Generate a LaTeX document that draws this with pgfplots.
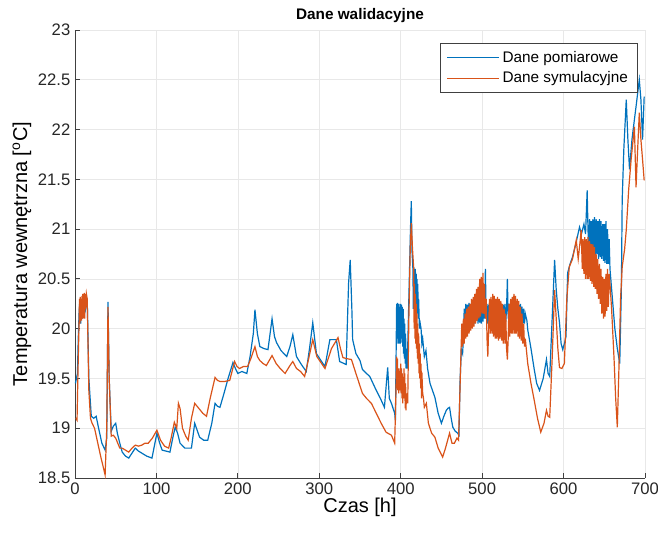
\documentclass[border=0pt]{standalone}
\usepackage{pgfplots}
\pgfplotsset{compat=1.18}
\usepackage{fontspec}
\setmainfont{Liberation Sans}
\definecolor{mblue}{rgb}{0.0,0.447,0.741}
\definecolor{morange}{rgb}{0.85,0.325,0.098}
\definecolor{axgray}{rgb}{0.25,0.25,0.25}
\begin{document}
\begin{tikzpicture}
\useasboundingbox (-56.25pt,-41.25pt) rectangle (437.25pt,358.5pt);
\begin{axis}[
  scale only axis, width=427.5pt, height=336pt,
  at={(0pt,0pt)}, anchor=south west,
  xmin=0, xmax=700, ymin=18.5, ymax=23,
  xtick={0,100,...,700}, ytick={18.5,19,...,23},
  axis x line=bottom, axis y line=left,
  axis line style={-, draw=axgray, line width=0.6pt},
  tick align=inside, major tick length=4pt,
  tick style={draw=axgray, line width=0.6pt},
  grid=major, major grid style={draw=black!9, line width=0.5pt},
  /pgf/number format/assume math mode=true,
  ticklabel style={font=\fontsize{12.5}{14}\selectfont, text=black!85},
  yticklabel style={/pgf/number format/fixed, /pgf/number format/precision=1},
  title={\textbf{Dane walidacyjne}},
  title style={font=\fontsize{11.5}{13}\selectfont, yshift=-4pt},
  xlabel={Czas [h]},
  ylabel={Temperatura wewnętrzna [$^{\mathrm{o}}$C]},
  label style={font=\fontsize{15}{17}\selectfont},
  xlabel style={yshift=4pt},
  ylabel style={yshift=-2pt},
  legend style={at={(0.987,0.972)}, anchor=north east, draw=axgray, line width=0.6pt,
    font=\fontsize{11.5}{13}\selectfont, inner xsep=5pt, inner ysep=4pt, row sep=1.5pt},
  legend cell align=left,
  legend image code/.code={\draw[#1, line width=0.6pt] (0pt,0pt) -- (39pt,0pt);},
]
\addplot[mblue, line width=0.9pt] coordinates {
(0.5,19.45)(3,19.55)(4,19.9)(5,20.15)(6,20.3)(7,20.05)(8,20.3)(9,20.1)(10,20.3)(11,20.15)(12,20.3)(13,20.2)(15,20.3)(17,19.5)(20,19.12)(23,19.1)(26,19.12)(29,19.0)(33,18.85)(37,18.78)(39,18.9)(40.5,20.27)(42,19.5)(44.5,18.97)(47,19.02)(50,19.05)(52,18.95)(55,18.85)(58,18.76)(62,18.72)(66,18.7)(70,18.75)(74,18.8)(78,18.77)(82,18.75)(88,18.72)(94.5,18.7)(100.6,18.95)(104,18.85)(107,18.78)(112,18.77)(116.6,18.76)(120,18.9)(123,19.01)(126,18.95)(129,18.85)(135,18.8)(143,18.8)(147,19.05)(150,18.98)(153,18.91)(158,18.88)(163,18.88)(168,19.05)(172,19.25)(175,19.22)(178,19.21)(183,19.35)(188,19.5)(194,19.66)(197,19.6)(200,19.55)(205,19.57)(211,19.55)(215,19.72)(219,19.95)(221,20.19)(224,19.95)(227,19.82)(232,19.8)(237,19.79)(242,20.1)(245,19.92)(247.5,19.86)(253,19.78)(260,19.72)(264,19.82)(267.5,19.94)(272,19.72)(278,19.64)(284,19.57)(288,19.8)(292,20.06)(296.5,19.75)(302,19.68)(307,19.62)(313,19.89)(321,19.89)(325,19.67)(333,19.64)(336,20.46)(338,20.69)(340,20.2)(341,19.89)(345,19.75)(350,19.68)(353,19.59)(358,19.55)(362,19.52)(366,19.45)(370,19.38)(375,19.3)(380,19.21)(384,19.61)(386,19.3)(388.6,19.25)(392.6,19.15)(393.5,19.08)
(395,20.25)(395.5,19.85)(396,20.26)(396.5,19.9)(397,20.2)(397.5,19.85)(398,20.25)(398.5,19.88)(399,20.22)(399.5,19.85)(400,20.25)(400.5,19.9)(401,20.24)(401.5,19.86)(402,20.22)(402.5,19.82)(403,20.2)(403.5,19.75)(404,20.1)(404.5,19.7)(405,20.05)(405.5,19.65)(406,19.95)(406.5,19.6)(407,19.8)(408,19.6)(410,20.3)(412,21.0)(413,21.28)(414,20.76)(415,20.6)(415.5,20.2)(416,20.62)(416.5,20.25)(417,20.6)(417.5,20.22)(418,20.6)(418.5,20.2)(419,20.55)(419.5,20.2)(420,20.5)(420.5,20.15)(421,20.45)(421.5,20.1)(422,20.3)(423,20.0)(424,20.05)(425,20.0)(426,19.85)(427,19.9)(429,19.72)(431,19.78)(433,19.6)(436,19.45)(439,19.38)(442,19.31)(446,19.15)(450,19.05)(453,19.12)(456,19.18)(458,19.2)(460,19.21)(462,19.1)(464,19.01)(467,18.97)(470,18.95)(471.5,18.93)(473,19.5)(474.5,19.79)(476,19.75)(477,19.9)
(478,20.2)(479,20.05)(480,20.25)(481,20.08)(482,20.24)(483,20.05)(484,20.26)(485,20.07)(486,20.25)(487,20.05)(488,20.24)(489,20.06)(490,20.25)(491,20.05)(492,20.26)(493,20.08)(494,20.25)(495,20.05)(496,20.24)(497,20.06)(498,20.25)(499,20.05)(500,20.26)(501,20.07)(502,20.25)(503,20.1)(504,20.6)(505,20.1)(506,20.25)(507,20.05)(508,20.24)(509,20.06)(510,20.25)(511,20.05)(512,20.26)(513,20.07)(514,20.25)(515,20.06)(516,20.24)(517,20.05)(518,20.25)(519,20.07)(520,20.26)(521,20.05)(522,20.24)(523,20.06)(524,20.25)(525,20.05)(526,20.24)(527,20.06)(528,20.25)(529,20.07)(530,20.2)(531,20.5)(532,20.1)(533,20.25)(534,20.06)(535,20.26)(536,20.05)(537,20.25)(538,20.07)(539,20.24)(540,20.05)(541,20.25)(542,20.06)(543,20.26)(544,20.05)(545,20.24)(546,20.07)(547,20.25)(548,20.05)(549,20.22)(550,20.05)(551,20.2)(552,20.05)(553,20.15)(555,20.08)
(556,19.99)(560,19.8)(564,19.59)(567,19.45)(570.5,19.38)(575,19.5)(579,19.69)(581,19.55)(583,19.52)(586,20.1)(589,20.69)(591,20.39)(593,20.2)(595,20.06)(597,19.85)(599,19.79)(601,19.85)(603,19.92)(605,20.56)(608,20.65)(611,20.72)(615,20.85)(619.6,21.02)(622,20.95)(625,21.05)(627,20.95)(629,21.39)(630,21.0)
(631,20.75)(632,21.1)(633,20.7)(634,21.08)(635,20.72)(636,21.1)(637,20.75)(638,21.12)(639,20.72)(640,21.1)(641,20.75)(642,21.08)(643,20.7)(644,21.1)(645,20.72)(646,21.08)(647,20.7)(648,21.05)(649,20.68)(650,21.05)(651,20.66)(652,21.08)(653,20.65)(654,21.0)(655,20.65)(656,20.9)
(657,20.6)(660,20.3)(663,20.0)(666,19.8)(669,19.65)(671,20.4)(672,21.29)(674,21.8)(677,22.3)(679,21.9)(681,21.6)(684,21.9)(687,22.1)(689,22.23)(693,22.5)(695,22.3)(697,21.9)(699,22.33)
};
\addlegendentry{Dane pomiarowe}
\addplot[morange, line width=0.9pt] coordinates {
(1,19.1)(2.5,19.08)(4,19.7)(5,20.05)(5.5,20.3)(6,20.05)(6.5,20.32)(7,20.1)(7.5,20.3)(8,20.08)(8.5,20.33)(9,20.1)(9.5,20.35)(10,20.1)(10.5,20.35)(11,20.15)(11.5,20.36)(12,20.1)(12.5,20.35)(13,20.2)(14,20.35)(15,20.3)(17,19.38)(19,19.1)(21,19.05)(24,19.0)(28,18.85)(32,18.7)(35,18.6)(37,18.53)(39,19.0)(40.5,20.22)(42,19.5)(44.5,18.92)(47,18.93)(50,18.9)(55,18.8)(58,18.8)(62,18.78)(66,18.76)(70,18.8)(74,18.83)(78,18.82)(82,18.83)(86,18.85)(90,18.85)(95,18.9)(100.6,18.98)(105,18.88)(110,18.82)(115,18.8)(118,18.9)(122,19.06)(125,19.0)(127,19.25)(129,19.2)(132,19.0)(136,18.92)(139,18.88)(143,19.1)(147,19.25)(152,19.2)(157,19.15)(161.5,19.12)(166,19.3)(172,19.51)(175,19.48)(178,19.47)(184,19.47)(190,19.48)(196,19.67)(199,19.62)(202,19.6)(207,19.62)(212,19.62)(216,19.7)(221,19.82)(224,19.72)(227,19.68)(231,19.65)(235,19.63)(242,19.73)(247,19.65)(252,19.6)(258,19.55)(264,19.63)(267.5,19.67)(272,19.6)(277,19.57)(282,19.52)(287,19.7)(292,19.89)(297,19.72)(302,19.66)(307,19.6)(315,19.8)(323,19.91)(326,19.8)(329,19.71)(333,19.7)(339.5,19.69)(345,19.55)(353,19.35)(358,19.3)(364,19.25)(370,19.15)(376,19.05)(382,18.96)(388.6,18.93)(392.6,18.85)(394,19.3)
(395,19.72)(395.5,19.4)(396,19.7)(396.5,19.38)(397,19.6)(397.5,19.35)(398,19.55)(398.5,19.38)(399,19.6)(399.5,19.4)(400,19.65)(400.5,19.35)(401,19.6)(401.5,19.3)(402,19.55)(402.5,19.25)(403,19.5)(403.5,19.3)(404,19.6)(404.5,19.3)(405,19.55)(405.5,19.2)(406,19.45)(406.5,19.18)(407,19.35)(408.6,19.25)(410,20.1)(411.7,20.8)(413,21.06)(414.5,20.8)(416,20.6)
(416.5,20.0)(417,20.45)(417.5,19.9)(418,20.35)(418.5,19.85)(419,20.25)(419.5,19.8)(420,20.15)(420.5,19.7)(421,20.05)(421.5,19.65)(422,19.95)(422.5,19.55)(423,19.85)(423.5,19.5)(424,19.75)(424.5,19.4)(425,19.65)(425.5,19.3)(426,19.56)(427,19.35)(428,19.3)(429,19.21)(431.5,19.25)(434,19.05)(438,18.95)(442,18.91)(446,18.8)(451.5,18.71)(455,18.8)(460,18.95)(463,18.85)(466,18.85)(469,18.9)(471,18.88)(472.5,19.3)(474,19.75)
(475,20.05)(476,19.82)(477,20.1)(478,19.85)(479,20.15)(480,19.9)(481,20.2)(482,19.92)(483,20.22)(484,19.95)(485,20.25)(486,19.98)(487,20.3)(488,20.0)(489,20.32)(490,20.02)(491,20.35)(492,20.05)(493,20.4)(494,20.08)(495,20.42)(496,20.1)(497,20.5)(498,20.12)(499,20.52)(500,20.15)(501,20.56)(502,20.15)(503,20.45)(504,20.1)(505,20.3)(506,19.9)(507,19.72)(508,20.0)(509,20.3)(510,19.95)(511,20.32)(512,19.95)(513,20.35)(514,19.92)(515,20.33)(516,19.9)(517,20.3)(518,19.9)(519,20.32)(520,19.88)(521,20.3)(522,19.9)(523,20.28)(524,19.88)(525,20.25)(526,19.85)(527,20.2)(528,19.85)(529,20.15)(530,19.8)(531,19.69)(532,19.9)(533,20.25)(534,19.92)(535,20.3)(536,19.95)(537,20.32)(538,19.95)(539,20.35)(540,19.95)(541,20.33)(542,19.95)(543,20.3)(544,19.92)(545,20.28)(546,19.9)(547,20.22)(548,19.88)(549,20.15)(550,19.85)(551,20.05)(552,19.82)(553,19.9)
(556,19.65)(560,19.45)(564,19.28)(568,19.1)(572,18.96)(576,19.05)(579,19.18)(581,19.12)(583,19.11)(586,19.7)(589,20.39)(591,20.1)(593,19.8)(595,19.61)(598,19.6)(601,19.65)(604,20.3)(607,20.62)(611,20.7)(615.6,20.89)(618,20.7)(620,20.85)(621.6,20.99)(623,20.6)
(624,20.9)(625,20.55)(626,20.92)(627,20.5)(628,20.9)(629,20.5)(630,20.92)(631,20.5)(632,20.88)(633,20.48)(634,20.85)(635,20.45)(636,20.85)(637,20.42)(638,20.82)(639,20.4)(640,20.75)(641,20.35)(642,20.7)(643,20.3)(644,20.65)(645,20.25)(646,20.6)(647,20.15)(648,20.52)(649,20.1)(650,20.5)(651,20.12)(652,20.55)(653,20.18)(654,20.6)(655,20.22)(656,20.55)
(657,20.45)(659,20.2)(662,19.7)(664,19.3)(666,19.01)(668,19.6)(670,20.3)(672,20.62)(675,20.8)(677,20.99)(680,21.4)(683,21.7)(687,22.03)(689,21.42)(691,21.8)(693,22.17)(695,21.9)(697,21.7)(699,21.49)
};
\addlegendentry{Dane symulacyjne}
\end{axis}
\end{tikzpicture}
\end{document}
